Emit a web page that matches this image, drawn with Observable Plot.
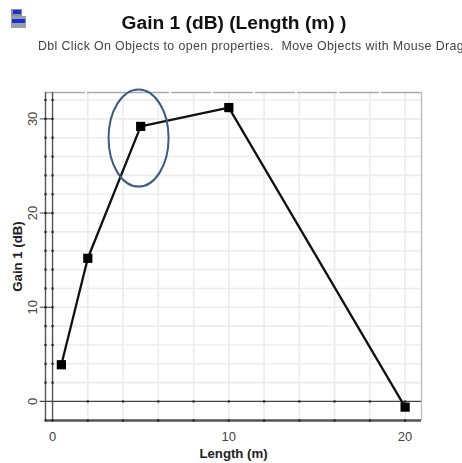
<!DOCTYPE html>
<html><head><meta charset="utf-8">
<script src="https://cdn.jsdelivr.net/npm/d3@7"></script>
<script src="https://cdn.jsdelivr.net/npm/@observablehq/plot@0.6"></script>
<style>
html,body{margin:0;padding:0;background:#fff;width:462px;height:463px;overflow:hidden;font-family:"Liberation Sans",Arial,sans-serif}
#wrap{position:relative;width:462px;height:463px;filter:blur(.55px)}
#head{position:relative;height:60px;overflow:hidden}
#title{position:absolute;left:0;top:12px;width:468px;text-align:center;font-weight:bold;font-size:19.2px;line-height:22px;color:#111}
#sub{position:absolute;left:38px;top:39px;white-space:nowrap;font-size:12.4px;letter-spacing:.37px;line-height:14px;color:#444}
#icon{position:absolute;left:11px;top:9px;width:14px;height:19px}
#icon b{position:absolute;left:0;top:0;width:11px;height:7px;background:#8b8f98}
#icon u{position:absolute;left:0;top:7px;width:15px;height:12px;background:#9a9ea6}
#icon i{position:absolute;display:block;background:#1d2fd0}
svg{display:block}
</style></head><body>
<div id="wrap">
<div id="head">
<div id="icon"><b></b><u></u><i style="left:2px;top:1px;width:8px;height:4px"></i><i style="left:1px;top:10px;width:13px;height:4px"></i></div>
<div id="title">Gain 1 (dB) (Length (m) )</div>
<div id="sub">Dbl Click On Objects to open properties.&nbsp; Move Objects with Mouse Drag</div>
</div>
<div id="chart"></div>
</div>
<script>
const lengthM = [0.5, 2, 5, 10, 20];
const gainDb = [3.9, 15.2, 29.2, 31.2, -0.6];
const xGrid = [2, 4, 6, 8, 10, 12, 14, 16, 18, 20];
const yGrid = [-2, 2, 4, 6, 8, 10, 12, 14, 16, 18, 20, 22, 24, 26, 28, 30, 32];
const xTickLabels = [0, 10, 20];
const yTickLabels = [0, 10, 20, 30];
const xDomain = [-0.4, 20.93];
const yDomain = [-2.02, 32.8];
const highlight = [{x: 4.88, y: 27.97}];

const points = lengthM.map((x, i) => ({x, y: gainDb[i]}));
const ellipseSymbol = {
  draw(ctx, size) {
    const rx = Math.sqrt(size / Math.PI), ry = rx * 1.62, k = 0.5523;
    ctx.moveTo(-rx, 0);
    ctx.bezierCurveTo(-rx, -k * ry, -k * rx, -ry, 0, -ry);
    ctx.bezierCurveTo(k * rx, -ry, rx, -k * ry, rx, 0);
    ctx.bezierCurveTo(rx, k * ry, k * rx, ry, 0, ry);
    ctx.bezierCurveTo(-k * rx, ry, -rx, k * ry, -rx, 0);
    ctx.closePath();
  }
};
const dark = "#444";
const plot = Plot.plot({
  width: 462, height: 403,
  marginTop: 32, marginBottom: 43, marginLeft: 45, marginRight: 41,
  style: {fontFamily: '"Liberation Sans",Arial,sans-serif', background: "#fff"},
  x: {domain: xDomain, label: null},
  y: {domain: yDomain, label: null},
  marks: [
    Plot.ruleX(xGrid, {stroke: "#ececec", strokeWidth: 1.6}),
    Plot.ruleY(yGrid, {stroke: "#ececec", strokeWidth: 1.6}),
    Plot.ruleY(yDomain.slice(1), {stroke: "#aaa", strokeWidth: 1.3, strokeDasharray: "40 2"}),
    Plot.ruleX(xDomain.slice(1), {stroke: "#bbb", strokeWidth: 1.3}),
    Plot.ruleX(xDomain.slice(0, 1), {stroke: "#555", strokeWidth: 1.4}),
    Plot.ruleY(yDomain.slice(0, 1), {stroke: "#555", strokeWidth: 2.4}),
    Plot.ruleX([0], {stroke: "#555", strokeWidth: 1.4}),
    Plot.ruleY([0], {x1: -0.7, x2: xDomain[1], stroke: dark, strokeWidth: 1.3}),
    Plot.ruleY(yTickLabels.slice(1), {x1: -0.7, x2: 0, stroke: dark, strokeWidth: 1}),
    Plot.dot(yGrid, {x: () => 0, y: d => d, symbol: "square", r: 1.2, fill: "#222"}),
    Plot.dot(yGrid, {x: () => xDomain[0], y: d => d, symbol: "square", r: 1.2, fill: "#222"}),
    Plot.dot(xGrid, {x: d => d, y: () => 0, symbol: "square", r: 1.2, fill: "#222"}),
    Plot.dot(xGrid, {x: d => d, y: () => yDomain[0], symbol: "square", r: 1.2, fill: "#222"}),
    Plot.line(points, {x: "x", y: "y", stroke: "#111", strokeWidth: 2.3}),
    Plot.dot(points, {x: "x", y: "y", symbol: "square", r: 5.2, fill: "#000", stroke: "none"}),
    Plot.dot(highlight, {x: "x", y: "y", symbol: ellipseSymbol, r: 30, stroke: "#3b5c85", strokeWidth: 2, fill: "none"}),
    Plot.axisX(xTickLabels, {anchor: "bottom", tickSize: 0, tickPadding: 11, fontSize: 13, fill: "#444", label: "Length (m)", labelAnchor: "center", labelArrow: "none", labelOffset: 37}),
    Plot.axisY(yTickLabels, {anchor: "left", tickSize: 0, tickPadding: 9, tickRotate: -90, fontSize: 13, fill: "#444", label: "Gain 1 (dB)", labelAnchor: "center", labelArrow: "none", labelOffset: 33})
  ]
});
document.getElementById("chart").appendChild(plot);
d3.select(plot).selectAll('[aria-label="x-axis label"] text, [aria-label="y-axis label"] text').style("font-weight", "bold").style("font-size", "13.2px").attr("fill", "#222");
</script>
</body></html>
